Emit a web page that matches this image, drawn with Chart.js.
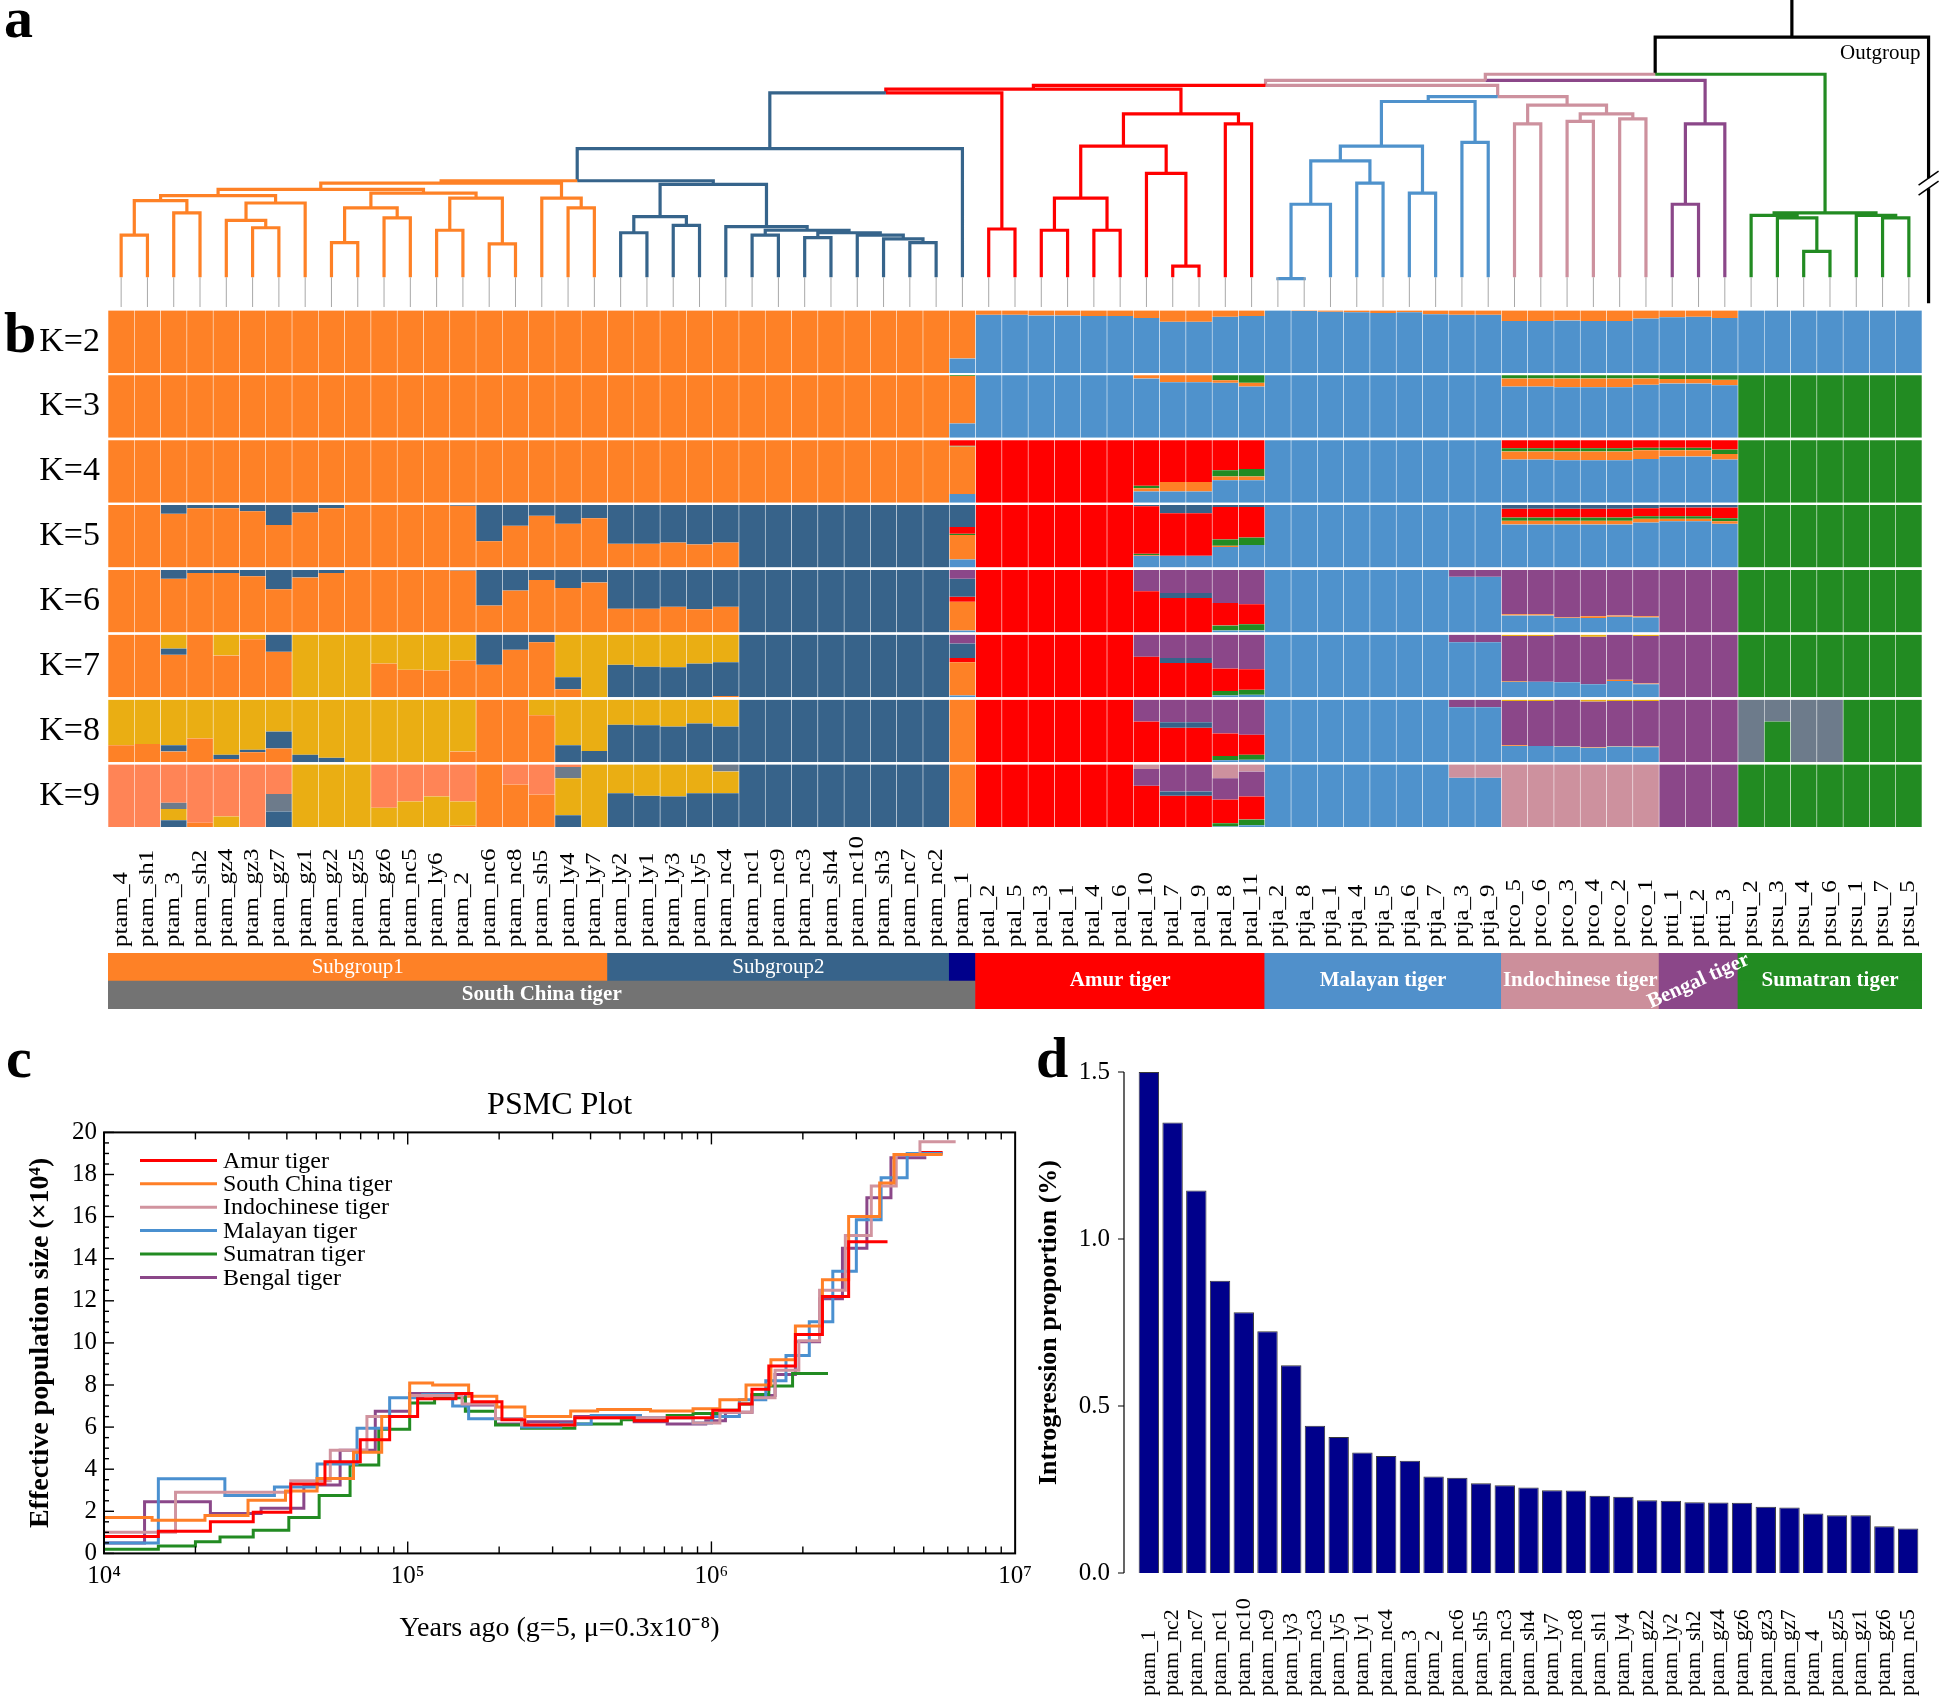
<!DOCTYPE html>
<html>
<head>
<meta charset="utf-8">
<title>Tiger population structure</title>
<script src="https://cdn.jsdelivr.net/npm/chart.js@4.4.0/dist/chart.umd.min.js"></script>
<style>
  body { margin: 0; background: #fff; }
  #page { position: relative; width: 1944px; height: 1700px; overflow: hidden; font-family: "Liberation Serif", serif; }
  .panel { position: absolute; }
  .tag { position: absolute; font: bold 58px "Liberation Serif", serif; line-height: 1; }
</style>
</head>
<body>
<div id="page">
  <div class="panel" style="left:0;top:0;width:1944px;height:310px"><canvas id="tree"></canvas></div>
  <div class="panel" style="left:0;top:300px;width:1944px;height:660px"><canvas id="admix"></canvas></div>
  <div class="panel" style="left:0;top:950px;width:1944px;height:62px"><canvas id="strip"></canvas></div>
  <div class="panel" style="left:0;top:1060px;width:1040px;height:620px"><canvas id="psmc"></canvas></div>
  <div class="panel" style="left:1030px;top:1030px;width:914px;height:670px"><canvas id="intro"></canvas></div>
  <div class="tag" style="left:4px;top:-11px">a</div>
  <div class="tag" style="left:4px;top:304px">b</div>
  <div class="tag" style="left:6px;top:1029px">c</div>
  <div class="tag" style="left:1036px;top:1029px">d</div>
</div>
<script>
// ---------- samples (panel a/b) ----------
const samples = ['ptam_4','ptam_sh1','ptam_3','ptam_sh2','ptam_gz4','ptam_gz3','ptam_gz7','ptam_gz1','ptam_gz2','ptam_gz5',
  'ptam_gz6','ptam_nc5','ptam_ly6','ptam_2','ptam_nc6','ptam_nc8','ptam_sh5','ptam_ly4','ptam_ly7','ptam_ly2',
  'ptam_ly1','ptam_ly3','ptam_ly5','ptam_nc4','ptam_nc1','ptam_nc9','ptam_nc3','ptam_sh4','ptam_nc10','ptam_sh3',
  'ptam_nc7','ptam_nc2','ptam_1',
  'ptal_2','ptal_5','ptal_3','ptal_1','ptal_4','ptal_6','ptal_10','ptal_7','ptal_9','ptal_8','ptal_11',
  'ptja_2','ptja_8','ptja_1','ptja_4','ptja_5','ptja_6','ptja_7','ptja_3','ptja_9',
  'ptco_5','ptco_6','ptco_3','ptco_4','ptco_2','ptco_1',
  'ptti_1','ptti_2','ptti_3',
  'ptsu_2','ptsu_3','ptsu_4','ptsu_6','ptsu_1','ptsu_7','ptsu_5'];

// group strip under panel b
const stripLabels = ['Subgroup1','Subgroup2','','South China tiger','Amur tiger','Malayan tiger','Indochinese tiger','Bengal tiger','Sumatran tiger'];
const stripFrom = [0, 19, 32, 0, 33, 44, 53, 59, 62];
const stripTo = [19, 32, 33, 33, 44, 53, 59, 62, 69];
const stripRows = ['upper','upper','upper','lower','both','both','both','both','both'];

// admixture proportions (%), order: South China(33) | Amur(11) | Malayan(9) | Indochinese(6) | Bengal(3) | Sumatran(7)
const k2LightBlue = [0,0,0,0,0,0,0,0,0,0, 0,0,0,0,0,0,0,0,0,0, 0,0,0,0,0,0,0,0,0,0, 0,0,23,
  93,93,92,92,91,91,88,82,82,90,91, 100,99,98,97,96,97,94,93,93, 83,83,84,83,83,87, 89,90,88, 100,100,100,100,100,100,100];
const k2Orange = [100,100,100,100,100,100,100,100,100,100, 100,100,100,100,100,100,100,100,100,100, 100,100,100,100,100,100,100,100,100,100, 100,100,77,
  7,7,8,8,9,9,12,18,18,10,9, 0,1,2,3,4,3,6,7,7, 17,17,16,17,17,13, 11,10,12, 0,0,0,0,0,0,0];

const k3LightBlue = [0,0,0,0,0,0,0,0,0,0, 0,0,0,0,0,0,0,0,0,0, 0,0,0,0,0,0,0,0,0,0, 0,0,23,
  100,100,100,100,100,100,95,89,89,88,82, 100,100,100,100,100,100,100,100,100, 82,82,81,81,81,85, 87,87,84, 0,0,0,0,0,0,0];
const k3Orange = [100,100,100,100,100,100,100,100,100,100, 100,100,100,100,100,100,100,100,100,100, 100,100,100,100,100,100,100,100,100,100, 100,100,76,
  0,0,0,0,0,0,5,11,11,4,6, 0,0,0,0,0,0,0,0,0, 13,13,14,14,14,10, 7,7,9, 0,0,0,0,0,0,0];
const k3Green = [0,0,0,0,0,0,0,0,0,0, 0,0,0,0,0,0,0,0,0,0, 0,0,0,0,0,0,0,0,0,0, 0,0,1,
  0,0,0,0,0,0,0,0,0,8,12, 0,0,0,0,0,0,0,0,0, 5,5,5,5,5,5, 6,6,7, 100,100,100,100,100,100,100];

const k4LightBlue = [0,0,0,0,0,0,0,0,0,0, 0,0,0,0,0,0,0,0,0,0, 0,0,0,0,0,0,0,0,0,0, 0,0,14,
  0,0,0,0,0,0,18,18,18,36,36, 100,100,100,100,100,100,100,100,100, 69,69,68,68,68,70, 74,74,69, 0,0,0,0,0,0,0];
const k4Orange = [100,100,100,100,100,100,100,100,100,100, 100,100,100,100,100,100,100,100,100,100, 100,100,100,100,100,100,100,100,100,100, 100,100,76,
  0,0,0,0,0,0,5,15,15,6,6, 0,0,0,0,0,0,0,0,0, 13,13,14,14,14,14, 10,10,9, 0,0,0,0,0,0,0];
const k4Green = [0,0,0,0,0,0,0,0,0,0, 0,0,0,0,0,0,0,0,0,0, 0,0,0,0,0,0,0,0,0,0, 0,0,1,
  0,0,0,0,0,0,4,0,0,10,12, 0,0,0,0,0,0,0,0,0, 5,5,5,5,5,4, 4,4,7, 100,100,100,100,100,100,100];
const k4Red = [0,0,0,0,0,0,0,0,0,0, 0,0,0,0,0,0,0,0,0,0, 0,0,0,0,0,0,0,0,0,0, 0,0,9,
  100,100,100,100,100,100,73,67,67,48,46, 0,0,0,0,0,0,0,0,0, 13,13,13,13,13,12, 12,12,15, 0,0,0,0,0,0,0];

const k5LightBlue = [0,0,0,0,0,0,0,0,0,0, 0,0,0,0,0,0,0,0,0,0, 0,0,0,0,0,0,0,0,0,0, 0,0,13,
  0,0,0,0,0,0,19,19,19,33,36, 100,100,100,100,100,100,100,100,100, 69,69,69,69,69,72, 74,74,70, 0,0,0,0,0,0,0];
const k5Orange = [100,100,86,95,95,90,68,88,95,100, 100,100,100,99,42,67,83,70,79,38, 38,40,37,40,0,0,0,0,0,0, 0,0,39,
  0,0,0,0,0,0,1,0,0,2,0, 0,0,0,0,0,0,0,0,0, 6,6,6,6,6,6, 4,4,4, 0,0,0,0,0,0,0];
const k5Green = [0,0,0,0,0,0,0,0,0,0, 0,0,0,0,0,0,0,0,0,0, 0,0,0,0,0,0,0,0,0,0, 0,0,2,
  0,0,0,0,0,0,2,0,0,10,12, 0,0,0,0,0,0,0,0,0, 5,5,5,5,5,4, 4,4,5, 100,100,100,100,100,100,100];
const k5Red = [0,0,0,0,0,0,0,0,0,0, 0,0,0,0,0,0,0,0,0,0, 0,0,0,0,0,0,0,0,0,0, 0,0,11,
  100,100,100,100,100,100,76,68,68,52,49, 0,0,0,0,0,0,0,0,0, 14,14,14,14,14,13, 14,14,17, 0,0,0,0,0,0,0];
const k5DarkBlue = [0,0,14,5,5,10,32,12,5,0, 0,0,0,1,58,33,17,30,21,62, 62,60,63,60,100,100,100,100,100,100, 100,100,35,
  0,0,0,0,0,0,2,13,13,3,3, 0,0,0,0,0,0,0,0,0, 6,6,6,6,6,5, 4,4,4, 0,0,0,0,0,0,0];

const k6LightBlue = [0,0,0,0,0,0,0,0,0,0, 0,0,0,0,0,0,0,0,0,0, 0,0,0,0,0,0,0,0,0,0, 0,0,3,
  0,0,0,0,0,0,0,0,0,3,3, 100,100,100,100,100,100,100,89,89, 27,27,23,23,25,24, 0,0,0, 0,0,0,0,0,0,0];
const k6Green = [0,0,0,0,0,0,0,0,0,0, 0,0,0,0,0,0,0,0,0,0, 0,0,0,0,0,0,0,0,0,0, 0,0,0,
  0,0,0,0,0,0,0,0,0,8,10, 0,0,0,0,0,0,0,0,0, 0,0,0,0,0,0, 0,0,0, 100,100,100,100,100,100,100];
const k6Orange = [100,100,86,95,95,90,69,88,95,100, 100,100,100,99,43,67,84,71,80,38, 38,41,37,41,0,0,0,0,0,0, 0,0,46,
  0,0,0,0,0,0,0,0,0,0,0, 0,0,0,0,0,0,0,0,0, 2,2,1,3,2,2, 0,0,0, 0,0,0,0,0,0,0];
const k6Red = [0,0,0,0,0,0,0,0,0,0, 0,0,0,0,0,0,0,0,0,0, 0,0,0,0,0,0,0,0,0,0, 0,0,8,
  100,100,100,100,100,100,66,55,55,36,32, 0,0,0,0,0,0,0,0,0, 0,0,0,0,0,0, 0,0,0, 0,0,0,0,0,0,0];
const k6DarkBlue = [0,0,14,5,5,10,31,12,5,0, 0,0,0,1,57,33,16,29,20,62, 62,59,63,59,100,100,100,100,100,100, 100,100,29,
  0,0,0,0,0,0,0,8,8,0,0, 0,0,0,0,0,0,0,0,0, 0,0,0,0,0,0, 0,0,0, 0,0,0,0,0,0,0];
const k6Purple = [0,0,0,0,0,0,0,0,0,0, 0,0,0,0,0,0,0,0,0,0, 0,0,0,0,0,0,0,0,0,0, 0,0,14,
  0,0,0,0,0,0,34,37,37,53,55, 0,0,0,0,0,0,0,11,11, 71,71,76,74,73,74, 100,100,100, 0,0,0,0,0,0,0];

const k7LightBlue = [0,0,0,0,0,0,0,0,0,0, 0,0,0,0,0,0,0,0,0,0, 0,0,0,0,0,0,0,0,0,0, 0,0,3,
  0,0,0,0,0,0,0,0,0,3,4, 100,100,100,100,100,100,100,88,88, 25,25,24,21,26,21, 0,0,0, 0,0,0,0,0,0,0];
const k7Green = [0,0,0,0,0,0,0,0,0,0, 0,0,0,0,0,0,0,0,0,0, 0,0,0,0,0,0,0,0,0,0, 0,0,0,
  0,0,0,0,0,0,0,0,0,7,8, 0,0,0,0,0,0,0,0,0, 0,0,0,0,0,0, 0,0,0, 100,100,100,100,100,100,100];
const k7Orange = [100,100,68,100,67,93,73,0,0,0, 54,44,43,59,52,76,88,13,0,0, 0,0,0,2,0,0,0,0,0,0, 0,0,53,
  0,0,0,0,0,0,0,0,0,0,0, 0,0,0,0,0,0,0,0,0, 1,0,0,0,2,1, 0,0,0, 0,0,0,0,0,0,0];
const k7Red = [0,0,0,0,0,0,0,0,0,0, 0,0,0,0,0,0,0,0,0,0, 0,0,0,0,0,0,0,0,0,0, 0,0,7,
  100,100,100,100,100,100,65,55,55,36,33, 0,0,0,0,0,0,0,0,0, 0,0,0,0,0,0, 0,0,0, 0,0,0,0,0,0,0];
const k7DarkBlue = [0,0,10,0,0,0,27,0,0,0, 0,0,0,0,48,24,12,19,0,52, 49,48,54,54,100,100,100,100,100,100, 100,100,23,
  0,0,0,0,0,0,0,8,8,0,0, 0,0,0,0,0,0,0,0,0, 0,0,0,0,0,0, 0,0,0, 0,0,0,0,0,0,0];
const k7Purple = [0,0,0,0,0,0,0,0,0,0, 0,0,0,0,0,0,0,0,0,0, 0,0,0,0,0,0,0,0,0,0, 0,0,14,
  0,0,0,0,0,0,35,37,37,54,55, 0,0,0,0,0,0,0,12,12, 72,73,76,76,72,76, 100,100,100, 0,0,0,0,0,0,0];
const k7Yellow = [0,0,22,0,33,7,0,100,100,100, 46,56,57,41,0,0,0,68,100,48, 51,52,46,44,0,0,0,0,0,0, 0,0,0,
  0,0,0,0,0,0,0,0,0,0,0, 0,0,0,0,0,0,0,0,0, 2,2,0,3,0,2, 0,0,0, 0,0,0,0,0,0,0];

const k8LightBlue = [0,0,0,0,0,0,0,0,0,0, 0,0,0,0,0,0,0,0,0,0, 0,0,0,0,0,0,0,0,0,0, 0,0,0,
  0,0,0,0,0,0,0,0,0,3,4, 100,100,100,100,100,100,100,88,88, 26,26,25,23,25,24, 0,0,0, 0,0,0,0,0,0,0];
const k8Green = [0,0,0,0,0,0,0,0,0,0, 0,0,0,0,0,0,0,0,0,0, 0,0,0,0,0,0,0,0,0,0, 0,0,0,
  0,0,0,0,0,0,0,0,0,7,8, 0,0,0,0,0,0,0,0,0, 0,0,0,0,0,0, 0,0,0, 0,65,0,0,100,100,100];
const k8Gray = [0,0,0,0,0,0,0,0,0,0, 0,0,0,0,0,0,0,0,0,0, 0,0,0,0,0,0,0,0,0,0, 0,0,0,
  0,0,0,0,0,0,0,0,0,0,0, 0,0,0,0,0,0,0,0,0, 0,0,0,0,0,0, 0,0,0, 100,35,100,100,0,0,0];
const k8Orange = [27,29,17,38,5,16,22,0,0,0, 0,0,0,17,100,100,75,0,0,0, 0,0,0,0,0,0,0,0,0,0, 0,0,100,
  0,0,0,0,0,0,0,0,0,0,0, 0,0,0,0,0,0,0,0,0, 1,0,1,1,1,1, 0,0,0, 0,0,0,0,0,0,0];
const k8Red = [0,0,0,0,0,0,0,0,0,0, 0,0,0,0,0,0,0,0,0,0, 0,0,0,0,0,0,0,0,0,0, 0,0,0,
  100,100,100,100,100,100,65,55,55,36,32, 0,0,0,0,0,0,0,0,0, 0,0,0,0,0,0, 0,0,0, 0,0,0,0,0,0,0];
const k8DarkBlue = [0,0,10,0,7,4,27,12,7,0, 0,0,0,0,0,0,0,27,18,60, 59,57,62,57,100,100,100,100,100,100, 100,100,0,
  0,0,0,0,0,0,0,9,9,0,0, 0,0,0,0,0,0,0,0,0, 0,0,0,0,0,0, 0,0,0, 0,0,0,0,0,0,0];
const k8Purple = [0,0,0,0,0,0,0,0,0,0, 0,0,0,0,0,0,0,0,0,0, 0,0,0,0,0,0,0,0,0,0, 0,0,0,
  0,0,0,0,0,0,35,36,36,54,56, 0,0,0,0,0,0,0,12,12, 71,72,74,73,72,73, 100,100,100, 0,0,0,0,0,0,0];
const k8Yellow = [73,71,73,62,88,80,51,88,93,100, 100,100,100,83,0,0,25,73,82,40, 41,43,38,43,0,0,0,0,0,0, 0,0,0,
  0,0,0,0,0,0,0,0,0,0,0, 0,0,0,0,0,0,0,0,0, 2,2,0,3,2,2, 0,0,0, 0,0,0,0,0,0,0];

const k9LightBlue = [0,0,0,0,0,0,0,0,0,0, 0,0,0,0,0,0,0,0,0,0, 0,0,0,0,0,0,0,0,0,0, 0,0,0,
  0,0,0,0,0,0,0,0,0,1,3, 100,100,100,100,100,100,100,79,79, 0,0,0,0,0,0, 0,0,0, 0,0,0,0,0,0,0];
const k9Green = [0,0,0,0,0,0,0,0,0,0, 0,0,0,0,0,0,0,0,0,0, 0,0,0,0,0,0,0,0,0,0, 0,0,0,
  0,0,0,0,0,0,0,0,0,5,9, 0,0,0,0,0,0,0,0,0, 0,0,0,0,0,0, 0,0,0, 100,100,100,100,100,100,100];
const k9Orange = [0,0,0,7,0,0,0,0,0,0, 0,0,0,2,100,68,52,0,0,0, 0,0,0,0,0,0,0,0,0,0, 0,0,100,
  0,0,0,0,0,0,0,0,0,0,0, 0,0,0,0,0,0,0,0,0, 0,0,0,0,0,0, 0,0,0, 0,0,0,0,0,0,0];
const k9Red = [0,0,0,0,0,0,0,0,0,0, 0,0,0,0,0,0,0,0,0,0, 0,0,0,0,0,0,0,0,0,0, 0,0,0,
  100,100,100,100,100,100,66,50,50,38,37, 0,0,0,0,0,0,0,0,0, 0,0,0,0,0,0, 0,0,0, 0,0,0,0,0,0,0];
const k9DarkBlue = [0,0,11,0,0,0,25,0,0,0, 0,0,0,0,0,0,0,19,0,54, 50,49,54,54,100,100,100,100,100,100, 100,100,0,
  0,0,0,0,0,0,0,7,7,0,0, 0,0,0,0,0,0,0,0,0, 0,0,0,0,0,0, 0,0,0, 0,0,0,0,0,0,0];
const k9Yellow = [0,0,18,0,17,0,0,100,100,100, 31,41,49,39,0,0,0,59,100,46, 50,51,46,35,0,0,0,0,0,0, 0,0,0,
  0,0,0,0,0,0,0,0,0,0,0, 0,0,0,0,0,0,0,0,0, 0,0,0,0,0,0, 0,0,0, 0,0,0,0,0,0,0];
const k9Gray = [0,0,10,0,0,0,28,0,0,0, 0,0,0,0,0,0,0,18,0,0, 0,0,0,11,0,0,0,0,0,0, 0,0,0,
  0,0,0,0,0,0,0,0,0,0,0, 0,0,0,0,0,0,0,0,0, 0,0,0,0,0,0, 0,0,0, 0,0,0,0,0,0,0];
const k9Salmon = [100,100,61,93,83,100,47,0,0,0, 69,59,51,59,0,32,48,4,0,0, 0,0,0,0,0,0,0,0,0,0, 0,0,0,
  0,0,0,0,0,0,0,0,0,0,0, 0,0,0,0,0,0,0,0,0, 0,0,0,0,0,0, 0,0,0, 0,0,0,0,0,0,0];
const k9Purple = [0,0,0,0,0,0,0,0,0,0, 0,0,0,0,0,0,0,0,0,0, 0,0,0,0,0,0,0,0,0,0, 0,0,0,
  0,0,0,0,0,0,27,43,43,34,40, 0,0,0,0,0,0,0,0,0, 0,0,0,0,0,0, 100,100,100, 0,0,0,0,0,0,0];
const k9Pink = [0,0,0,0,0,0,0,0,0,0, 0,0,0,0,0,0,0,0,0,0, 0,0,0,0,0,0,0,0,0,0, 0,0,0,
  0,0,0,0,0,0,7,0,0,22,11, 0,0,0,0,0,0,0,21,21, 100,100,100,100,100,100, 0,0,0, 0,0,0,0,0,0,0];

// ---------- dendrogram (panel a): [height, children, colour]; leaves = sample index, 'O' = outgroup ----------
const sub1Tree = [100, [
  [95, [
    [90, [[86, [[58, [0, 1]], [76, [2, 3]]]], [84, [[70, [4, [64, [5, 6]]]], 7]]]],
    [92, [[80, [[52, [8, 9]], [72, [10, 11]]]], [88, [[62, [12, 13]], [51, [14, 15]]]]]]]],
  [88, [16, [80, [17, 18]]]]]];
const sub2Tree = [99, [
  [73, [[60, [19, 20]], [66, [21, 22]]]],
  [65, [23, [62, [[58, [24, 25]], [60, [[56, [26, 27]], [58, [28, [55, [29, [52, [30, 31]]]]]]]]]]]]]];
const scTree = [128, [[102, [sub1Tree, sub2Tree], 'sub2'], 32], 'sub2'];
const amurPair = [63, [33, 34]];
const amurTree = [156, [
  [130, [[88, [[62, [35, 36]], [62, [37, 38]]]], [108, [39, [33, [40, 41]]]]]],
  [148, [42, 43]]]];
const malayTree = [166, [
  [130, [[118, [[83, [[23, [44, 45]], 46]], [100, [47, 48]]]], [92, [49, 50]]]],
  [133, [51, 52]]]];
const indoTree = [163, [[148, [53, 54]], [156, [[150, [55, 56]], [152, [57, 58]]]]]];
const bengalTree = [148, [[83, [59, 60]], 61]];
const sumatraTree = [76, [[74, [62, [72, [63, [45, [64, 65]]]]]], [74, [66, [72, [67, 68]]]]]];
const tigerTree = [218, [
  [188, [
    [183, [
      [179, [
        [176, [[173, [scTree, amurPair], 'amur'], amurTree], 'amur'],
        [170, [malayTree, indoTree], 'indo']], 'indo'],
      bengalTree], 'indo'],
    sumatraTree], 'black'],
  'O'], 'black'];
const outgroupPos = 68.75;

// ---------- PSMC (panel c): step starts in years, Ne (x10^4) ----------
const amurYears = [10000,15100,22400,31000,41200,53400,69800,87200,107800,144200,162700,204300,243000,355000,557000,715000,1010000,1236000,1360000,1545000,1890000,2320000,2830000,3800000];
const amurNe = [0.8,1.05,1.5,1.95,3.3,4.35,5.4,6.5,7.35,7.6,7.2,6.35,6.1,6.45,6.3,6.45,6.8,7.1,7.8,8.9,10.4,12.2,14.8,14.8];
const amur2Years = [4860000, 5770000];
const amur2Ne = [19.05, 19.05];
const scYears = [10000,14400,21500,29800,39600,50300,66300,82100,101500,120800,158700,196500,243000,344000,422000,630000,870000,1066000,1300000,1570000,1890000,2320000,2830000,3580000,3990000,5770000];
const scNe = [1.7,1.57,1.8,2.53,2.96,3.56,4.8,6.5,8.1,8.0,7.47,6.96,6.5,6.76,6.84,6.76,6.87,7.3,8.0,9.2,10.8,13.0,16.0,17.6,18.95,18.95];
const indoYears = [10000,17200,41200,55600,73400,101500,151000,194600,237000,355000,870000,1066000,1360000,1620000,1940000,2270000,2760000,3360000,4060000,4860000,6370000];
const indoNe = [1.0,2.9,3.45,4.9,6.5,7.5,7.1,6.4,6.1,6.45,6.2,6.7,7.4,8.7,10.1,12.5,15.1,17.45,18.95,19.55,19.55];
const malayYears = [10000,15100,25000,36400,50300,68100,87200,112000,140600,158700,237000,319000,402000,584000,870000,1000000,1236000,1510000,1760000,2100000,2510000,3000000,3620000,4410000,5770000];
const malayNe = [0.5,3.55,2.75,3.15,4.25,5.95,7.4,7.55,7.0,6.4,6.0,6.15,6.55,6.45,6.2,6.5,7.3,8.2,9.4,11.0,13.4,15.85,17.85,19.0,19.0];
const sumYears = [10000,15100,20000,24100,31000,40600,51100,64600,80300,101500,122600,154800,194600,237000,355000,505000,715000,870000,1066000,1236000,1360000,1545000,1850000,2420000];
const sumNe = [0.2,0.35,0.55,0.78,1.1,1.7,2.75,4.2,5.9,7.15,7.4,6.75,6.1,5.95,6.15,6.35,6.55,6.65,6.8,7.1,7.55,7.95,8.55,8.55];
const benYears = [10000,13600,22400,32900,45500,59900,78200,101500,154800,194600,249000,355000,557000,715000,958000,1112000,1360000,1620000,1890000,2270000,2700000,3250000,3900000,5100000];
const benNe = [0.5,2.45,1.9,2.15,3.25,4.9,6.75,7.6,7.05,6.15,6.25,6.5,6.25,6.15,6.3,6.7,7.5,8.5,10.05,12.1,14.5,16.9,18.8,18.8];
const psmcTicks = [0,2,4,6,8,10,12,14,16,18,20];

// ---------- introgression (panel d) ----------
const introLabels = ['ptam_1','ptam_nc2','ptam_nc7','ptam_nc1','ptam_nc10','ptam_nc9','ptam_ly3','ptam_nc3','ptam_ly5','ptam_ly1',
  'ptam_nc4','ptam_3','ptam_2','ptam_nc6','ptam_sh5','ptam_nc3','ptam_sh4','ptam_ly7','ptam_nc8','ptam_sh1',
  'ptam_ly4','ptam_gz2','ptam_ly2','ptam_sh2','ptam_gz4','ptam_gz6','ptam_gz3','ptam_gz7','ptam_4','ptam_gz5',
  'ptam_gz1','ptam_gz6','ptam_nc5'];
const introValues = [1.50,1.349,1.145,0.875,0.781,0.724,0.622,0.441,0.407,0.361,
  0.350,0.336,0.289,0.285,0.269,0.263,0.256,0.248,0.247,0.231,
  0.228,0.218,0.216,0.212,0.211,0.210,0.198,0.196,0.178,0.173,
  0.173,0.140,0.133];

// ---------- styles ----------
const compColors = {
  lightblue: '#4f92cc', orange: '#fe8126', green: '#228b22', red: '#ff0000', darkblue: '#37638a',
  purple: '#8b4789', yellow: '#eaae13', gray: '#6d7b8b', salmon: '#ff8456', pink: '#cd919e'
};
const treeColors = {
  sub1: '#fe8126', sub2: '#36648b', amur: '#ff0000', malay: '#4f92cc', indo: '#cd919e',
  bengal: '#8b4789', sumatra: '#228b22', black: '#000000', stub: '#a8a8a8'
};
const stripColors = ['#fe8126', '#37638a', '#00008b', '#737373', '#ff0000', '#5090cb', '#cc8f9b', '#8b4789', '#228b22'];
const serif = '"Liberation Serif", "Times New Roman", serif';

Chart.defaults.font.family = serif;
Chart.defaults.color = '#000';
Chart.defaults.animation = false;
Chart.defaults.plugins.legend.display = false;
Chart.defaults.plugins.tooltip.enabled = false;

const admixRows = [
  ['K=2', [['lightblue', k2LightBlue], ['orange', k2Orange]]],
  ['K=3', [['lightblue', k3LightBlue], ['orange', k3Orange], ['green', k3Green]]],
  ['K=4', [['lightblue', k4LightBlue], ['orange', k4Orange], ['green', k4Green], ['red', k4Red]]],
  ['K=5', [['lightblue', k5LightBlue], ['orange', k5Orange], ['green', k5Green], ['red', k5Red], ['darkblue', k5DarkBlue]]],
  ['K=6', [['lightblue', k6LightBlue], ['green', k6Green], ['orange', k6Orange], ['red', k6Red], ['darkblue', k6DarkBlue], ['purple', k6Purple]]],
  ['K=7', [['lightblue', k7LightBlue], ['green', k7Green], ['orange', k7Orange], ['red', k7Red], ['darkblue', k7DarkBlue], ['purple', k7Purple], ['yellow', k7Yellow]]],
  ['K=8', [['lightblue', k8LightBlue], ['green', k8Green], ['gray', k8Gray], ['orange', k8Orange], ['red', k8Red], ['darkblue', k8DarkBlue], ['purple', k8Purple], ['yellow', k8Yellow]]],
  ['K=9', [['lightblue', k9LightBlue], ['green', k9Green], ['orange', k9Orange], ['red', k9Red], ['darkblue', k9DarkBlue], ['yellow', k9Yellow], ['gray', k9Gray], ['salmon', k9Salmon], ['purple', k9Purple], ['pink', k9Pink]]]
];
admixRows.forEach(([k, comps]) => comps.forEach(([c, v]) => {
  if (v.length !== samples.length) console.error('length mismatch', k, c, v.length);
}));

// rotated tick labels that start from a common bottom line
function bottomLabels(id, labels, baseY, size, squeeze) {
  return {
    id,
    afterDraw(chart) {
      const { ctx } = chart;
      const xs = chart.scales.x;
      ctx.save();
      ctx.fillStyle = '#000';
      ctx.font = size + 'px ' + serif;
      ctx.textAlign = 'left';
      ctx.textBaseline = 'middle';
      labels.forEach((s, i) => {
        ctx.save();
        ctx.translate(xs.getPixelForValue(i), baseY);
        ctx.rotate(-Math.PI / 2);
        ctx.scale(1, squeeze);
        ctx.fillText(s, 0, 0);
        ctx.restore();
      });
      ctx.restore();
    }
  };
}

// ---------- panel a: dendrogram ----------
function leafColor(i) {
  const s = samples[i];
  if (s.startsWith('ptam')) return i < stripTo[0] ? treeColors.sub1 : treeColors.sub2;
  if (s.startsWith('ptal')) return treeColors.amur;
  if (s.startsWith('ptja')) return treeColors.malay;
  if (s.startsWith('ptco')) return treeColors.indo;
  if (s.startsWith('ptti')) return treeColors.bengal;
  return treeColors.sumatra;
}
const leafTip = 24;
const treePaths = {};
function addPath(col, pts) {
  const arr = treePaths[col] || (treePaths[col] = []);
  pts.forEach(p => arr.push({ x: p[0], y: p[1] }));
  arr.push({ x: null, y: null });
}
function place(node) {
  if (node === 'O') return { x: outgroupPos, top: 3, col: treeColors.black };
  if (typeof node === 'number') return { x: node, top: leafTip, col: leafColor(node) };
  const [h, kids, colName] = node;
  const placed = kids.map(place);
  const x = (placed[0].x + placed[placed.length - 1].x) / 2;
  placed.forEach(k => addPath(k.col, [[k.x, k.top], [k.x, h], [x, h]]));
  const cols = new Set(placed.map(k => k.col));
  const col = colName ? treeColors[colName] : (cols.size === 1 ? placed[0].col : treeColors.black);
  return { x, top: h, col };
}
samples.forEach((s, i) => addPath(treeColors.stub, [[i, 0], [i, leafTip]]));
const rootPos = place(tigerTree);
addPath(treeColors.black, [[rootPos.x, rootPos.top], [rootPos.x, 248]]);

new Chart(document.getElementById('tree'), {
  type: 'scatter',
  data: {
    datasets: Object.entries(treePaths).map(([col, pts]) => ({
      data: pts, borderColor: col, backgroundColor: col, showLine: true, pointRadius: 0,
      borderWidth: col === treeColors.stub ? 1 : 3.2, clip: false, spanGaps: false
    }))
  },
  options: {
    responsive: true, maintainAspectRatio: false,
    layout: { padding: { left: 108, right: 22, top: 0, bottom: 3 } },
    scales: {
      x: { type: 'linear', min: -0.5, max: samples.length - 0.5, display: false },
      y: { type: 'linear', min: 0, max: 248, display: false }
    }
  },
  plugins: [{
    id: 'outgroupNote',
    afterDraw(chart) {
      const { ctx, scales: { x, y } } = chart;
      const px = x.getPixelForValue(outgroupPos);
      ctx.save();
      ctx.font = '21px ' + serif;
      ctx.fillStyle = '#000';
      ctx.textAlign = 'right';
      ctx.textBaseline = 'middle';
      ctx.fillText('Outgroup', px - 8, y.getPixelForValue(205));
      const py = y.getPixelForValue(100);
      ctx.fillStyle = '#fff';
      ctx.fillRect(px - 4, py - 5, 8, 10);
      ctx.strokeStyle = '#000';
      ctx.lineWidth = 1.5;
      [-5, 5].forEach(d => {
        ctx.beginPath();
        ctx.moveTo(px - 10, py + d + 7);
        ctx.lineTo(px + 10, py + d - 7);
        ctx.stroke();
      });
      ctx.restore();
    }
  }]
});

// ---------- panel b: admixture ----------
const admixDatasets = [];
const admixScales = {
  x: { type: 'category', labels: samples, display: false, offset: true, grid: { display: false } }
};
admixRows.forEach(([name, comps], r) => {
  const id = 'y' + r;
  admixScales[id] = {
    type: 'linear', position: 'left', stack: 'rows', stackWeight: 1, weight: admixRows.length - r,
    stacked: true, min: 0, max: 104,
    grid: { display: false, drawTicks: false }, border: { display: false },
    ticks: { font: { size: 34 }, padding: 8, callback: () => name },
    afterBuildTicks: ax => { ax.ticks = [{ value: 50 }]; },
    afterFit: ax => { ax.width = 108; ax.paddingTop = 0; ax.paddingBottom = 0; }
  };
  comps.forEach(([c, vals]) => admixDatasets.push({
    label: name + ' ' + c, data: vals, backgroundColor: compColors[c], yAxisID: id, stack: name,
    grouped: false, barPercentage: 1, categoryPercentage: 1,
    borderWidth: { left: 0.6, right: 0.6, top: 0, bottom: 0 }, borderColor: 'rgba(255,255,255,0.22)'
  }));
});
new Chart(document.getElementById('admix'), {
  type: 'bar',
  data: { labels: samples, datasets: admixDatasets },
  options: {
    responsive: true, maintainAspectRatio: false,
    layout: { padding: { left: 0, right: 22, top: 8, bottom: 133 } },
    scales: admixScales
  },
  plugins: [bottomLabels('sampleLabels', samples, 647, 25, 0.85)]
});

// ---------- group strip ----------
const stripData = [];
const stripBg = [];
stripLabels.forEach((g, i) => {
  const rowsFor = stripRows[i] === 'both' ? ['upper', 'lower'] : [stripRows[i]];
  rowsFor.forEach(row => { stripData.push({ y: row, x: [stripFrom[i], stripTo[i]] }); stripBg.push(stripColors[i]); });
});
new Chart(document.getElementById('strip'), {
  type: 'bar',
  data: { labels: ['upper', 'lower'], datasets: [{ data: stripData, backgroundColor: stripBg, barPercentage: 1, categoryPercentage: 1, borderWidth: 0 }] },
  options: {
    indexAxis: 'y', responsive: true, maintainAspectRatio: false,
    layout: { padding: { left: 108, right: 22, top: 3, bottom: 3 } },
    scales: {
      x: { type: 'linear', min: 0, max: samples.length, display: false },
      y: { type: 'category', display: false }
    }
  },
  plugins: [{
    id: 'stripText',
    afterDraw(chart) {
      const { ctx, chartArea: a, scales: { x } } = chart;
      const mid = (a.top + a.bottom) / 2;
      ctx.save();
      ctx.fillStyle = '#fff';
      ctx.textAlign = 'center';
      ctx.textBaseline = 'middle';
      stripLabels.forEach((g, i) => {
        if (!g) return;
        const cx = x.getPixelForValue((stripFrom[i] + stripTo[i]) / 2);
        const cy = stripRows[i] === 'upper' ? (a.top + mid) / 2 : stripRows[i] === 'lower' ? (mid + a.bottom) / 2 : mid;
        ctx.font = (stripRows[i] === 'upper' ? '21px ' : 'bold 21px ') + serif;
        ctx.save();
        ctx.translate(cx, cy);
        if (g === 'Bengal tiger') ctx.rotate(-0.42);
        ctx.fillText(g, 0, 0);
        ctx.restore();
      });
      ctx.restore();
    }
  }]
});

// ---------- panel c: PSMC ----------
const psmcSeries = [
  ['Amur tiger', '#ff0000', amurYears, amurNe, true],
  ['South China tiger', '#ff7f27', scYears, scNe, true],
  ['Indochinese tiger', '#d1949f', indoYears, indoNe, true],
  ['Malayan tiger', '#4a90d0', malayYears, malayNe, true],
  ['Sumatran tiger', '#228b22', sumYears, sumNe, true],
  ['Bengal tiger', '#8b4789', benYears, benNe, true],
  ['Amur tiger', '#ff0000', amur2Years, amur2Ne, false]
];
const sup = { 4: '\u2074', 5: '\u2075', 6: '\u2076', 7: '\u2077' };
new Chart(document.getElementById('psmc'), {
  type: 'line',
  data: {
    datasets: psmcSeries.map(([label, color, xs, ys, inLegend]) => ({
      label, inLegend, data: xs.map((v, i) => ({ x: v, y: ys[i] })),
      borderColor: color, backgroundColor: color, borderWidth: 3, stepped: 'before', pointRadius: 0, fill: false
    }))
  },
  options: {
    responsive: true, maintainAspectRatio: false,
    layout: { padding: { left: 0, right: 21, top: 0, bottom: 31 } },
    plugins: {
      title: { display: true, text: 'PSMC Plot', font: { size: 32, weight: 'normal' }, padding: { top: 26, bottom: 8 }, fullSize: false }
    },
    scales: {
      x: {
        type: 'logarithmic', min: 1e4, max: 1e7,
        grid: { display: false, drawTicks: false }, border: { display: false },
        ticks: {
          autoSkip: false, maxRotation: 0, font: { size: 25 }, padding: 8,
          callback: v => { const e = Math.log10(v); return Math.abs(e - Math.round(e)) < 1e-9 ? '10' + sup[Math.round(e)] : ''; }
        },
        title: { display: true, text: 'Years ago (g=5, \u03bc=0.3x10\u207b\u2078)', font: { size: 28 }, padding: { top: 12, bottom: 4 } }
      },
      y: {
        min: 0, max: 20,
        grid: { display: false, drawTicks: false }, border: { display: false },
        ticks: { font: { size: 25 }, padding: 7 },
        afterBuildTicks: ax => { ax.ticks = psmcTicks.map(v => ({ value: v })); },
        title: { display: true, text: 'Effective population size (\u00d710\u2074)', font: { size: 28, weight: 'bold' }, padding: { top: 24, bottom: 0 } },
        afterFit: ax => { ax.width = 104; }
      }
    }
  },
  plugins: [{
    id: 'psmcFrame',
    afterDraw(chart) {
      const { ctx, chartArea: a, scales: { x, y } } = chart;
      const seg = (x1, y1, x2, y2) => { ctx.beginPath(); ctx.moveTo(x1, y1); ctx.lineTo(x2, y2); ctx.stroke(); };
      ctx.save();
      ctx.strokeStyle = '#000';
      ctx.lineWidth = 2;
      ctx.strokeRect(a.left, a.top, a.right - a.left, a.bottom - a.top);
      ctx.lineWidth = 1.4;
      for (let d = 4; d < 7; d++) {
        for (let m = 1; m < 10; m++) {
          const px = x.getPixelForValue(m * Math.pow(10, d));
          const len = m === 1 ? 12 : 7;
          seg(px, a.bottom, px, a.bottom - len);
          seg(px, a.top, px, a.top + len);
        }
      }
      for (let v = 0; v <= 20; v += 0.5) {
        const py = y.getPixelForValue(v);
        seg(a.left, py, a.left + (v % 2 === 0 ? 10 : 5), py);
      }
      // legend inside the plot
      ctx.font = '24px ' + serif;
      ctx.textAlign = 'left';
      ctx.textBaseline = 'middle';
      ctx.fillStyle = '#000';
      chart.data.datasets.filter(ds => ds.inLegend).forEach((ds, i) => {
        const ly = a.top + 28 + i * 23.4;
        ctx.strokeStyle = ds.borderColor;
        ctx.lineWidth = 3;
        seg(a.left + 36, ly, a.left + 113, ly);
        ctx.fillText(ds.label, a.left + 119, ly + 1);
      });
      ctx.restore();
    }
  }]
});

// ---------- panel d: introgression ----------
new Chart(document.getElementById('intro'), {
  type: 'bar',
  data: {
    labels: introLabels,
    datasets: [{ data: introValues, backgroundColor: '#00008b', borderColor: '#3a3a3a', borderWidth: 1, barPercentage: 0.86, categoryPercentage: 1 }]
  },
  options: {
    responsive: true, maintainAspectRatio: false,
    layout: { padding: { left: 0, right: 24, top: 24, bottom: 127 } },
    scales: {
      x: { type: 'category', display: false, offset: true },
      y: {
        min: 0, max: 1.5,
        grid: { display: false, drawTicks: false }, border: { display: false },
        ticks: { stepSize: 0.5, font: { size: 25 }, padding: 27, callback: v => v.toFixed(1) },
        title: { display: true, text: 'Introgression proportion (%)', font: { size: 26, weight: 'bold' }, padding: { top: 4, bottom: 0 } },
        afterFit: ax => { ax.width = 107; }
      }
    }
  },
  plugins: [bottomLabels('introLabels', introLabels, 666, 22, 1), {
    id: 'introAxis',
    afterDraw(chart) {
      const { ctx, chartArea: a, scales: { y } } = chart;
      const ax = a.left - 13;
      ctx.save();
      ctx.strokeStyle = '#000';
      ctx.lineWidth = 1.2;
      ctx.beginPath();
      ctx.moveTo(ax, y.getPixelForValue(1.5));
      ctx.lineTo(ax, y.getPixelForValue(0));
      y.ticks.forEach(t => {
        const py = y.getPixelForValue(t.value);
        ctx.moveTo(ax, py);
        ctx.lineTo(ax - 6, py);
      });
      ctx.stroke();
      ctx.restore();
    }
  }]
});
</script>
</body>
</html>
